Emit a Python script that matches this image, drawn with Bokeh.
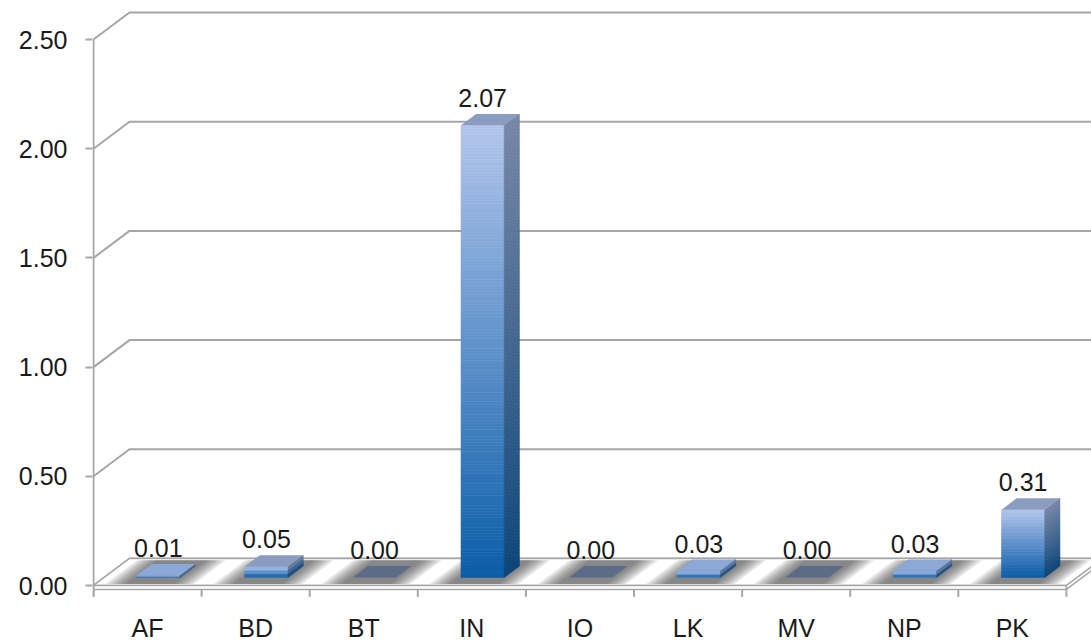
import numpy as np
from bokeh.plotting import figure
from bokeh.models import FixedTicker, NumeralTickFormatter, Range1d
from bokeh.embed import file_html
from bokeh.resources import INLINE
from bokeh.core.properties import value

# ---------------- data ----------------
categories = ["AF", "BD", "BT", "IN", "IO", "LK", "MV", "NP", "PK"]
values = [0.01, 0.05, 0.00, 2.07, 0.00, 0.03, 0.00, 0.03, 0.31]
y_ticks = [0.0, 0.5, 1.0, 1.5, 2.0, 2.5]

# ---------------- style / geometry ----------------
FONT = value("Liberation Sans")
FS = "25px"
TXT = "#1A1A1A"
GRID = "#A6A6A6"
DX, DY = 0.333, 0.1236        # depth vector of the 3D box (category units, data units)
F1, F2 = 0.30, 0.72           # bar front / back depth fractions
BW = 0.40                     # bar width (category units)
SLAB = 0.018                  # floor thickness
TICK = 0.034                  # category tick length below the floor
LABEL_Y = -0.1946             # category label anchor
N = len(categories)

def hex2rgb(h):
    h = h.lstrip("#")
    return np.array([int(h[i:i + 2], 16) for i in (0, 2, 4)], dtype=float)

def mix(c_top, c_bot, t):
    a, b = hex2rgb(c_top), hex2rgb(c_bot)
    c = b + (a - b) * t
    return "#%02x%02x%02x" % tuple(int(round(x)) for x in c)

FRONT_TOP, FRONT_BOT = "#B2C5EC", "#0A5DA8"
SIDE_TOP, SIDE_BOT = "#7686A6", "#0B4478"
TOP_FACE = "#8A9CC0"
ZERO_FACE = "#5B6B88"

p = figure(width=1091, height=644, output_backend="svg", toolbar_location=None,
           x_range=Range1d(-0.00925, 9.232), y_range=Range1d(-0.2701, 2.6786),
           min_border_left=92, min_border_right=0, min_border_top=0,
           min_border_bottom=0, title=None)
p.outline_line_color = None
p.xgrid.visible = False
p.ygrid.visible = False
p.xaxis.visible = False
p.background_fill_color = "white"
p.border_fill_color = "white"

# ---------------- walls / gridlines ----------------
far = 10.5
p.multi_line(xs=[[0, DX, far] for v in y_ticks],
             ys=[[v, v + DY, v + DY] for v in y_ticks],
             line_color=GRID, line_width=2)

# ---------------- floor ----------------
p.patch([0, N, N + DX, DX], [0, 0, DY, DY], fill_color="white",
        line_color=GRID, line_width=1.5)
p.patch([0, N, N, 0], [0, 0, -SLAB, -SLAB], fill_color="white",
        line_color=GRID, line_width=1.5)
p.patch([N, N + DX, N + DX, N], [0, DY, DY - SLAB, -SLAB], fill_color="white",
        line_color=GRID, line_width=1.5)

# floor shadows
sh_x, sh_y = [], []
for i in range(N):
    for k in range(1, 8):
        e = 0.03 * k
        l = i + 0.5 - BW / 2 - e
        r = i + 0.5 + BW / 2 + e
        fa, fb = 0.06, 0.94
        sh_x.append([l + fa * DX, r + fa * DX, r + fb * DX, l + fb * DX])
        sh_y.append([fa * DY, fa * DY, fb * DY, fb * DY])
p.patches(sh_x, sh_y, fill_color="#3A3A3A", fill_alpha=0.12, line_color=None)

# ---------------- bars ----------------
fq_l, fq_r, fq_b, fq_t, fq_c = [], [], [], [], []
sp_x, sp_y, sp_c = [], [], []
tp_x, tp_y, tp_c = [], [], []
for i, v in enumerate(values):
    xl = i + 0.5 - BW / 2 + F1 * DX
    xr = xl + BW
    y0 = F1 * DY
    ddx = (F2 - F1) * DX
    ddy = (F2 - F1) * DY
    if v > 0:
        n = max(2, int(v * 70))
        edges = np.linspace(0, v, n + 1)
        for j in range(n):
            t = (j + 0.5) / n
            fq_l.append(xl); fq_r.append(xr)
            fq_b.append(y0 + edges[j]); fq_t.append(y0 + edges[j + 1])
            fq_c.append(mix(FRONT_TOP, FRONT_BOT, t))
            sp_x.append([xr, xr + ddx, xr + ddx, xr])
            sp_y.append([y0 + edges[j], y0 + ddy + edges[j],
                         y0 + ddy + edges[j + 1], y0 + edges[j + 1]])
            sp_c.append(mix(SIDE_TOP, SIDE_BOT, t))
        tc = TOP_FACE if v >= 0.04 else "#8BA8D6"
    else:
        tc = ZERO_FACE
    tp_x.append([xl, xr, xr + ddx, xl + ddx])
    tp_y.append([y0 + v, y0 + v, y0 + ddy + v, y0 + ddy + v])
    tp_c.append(tc)

p.quad(left=fq_l, right=fq_r, bottom=fq_b, top=fq_t, fill_color=fq_c,
       line_color=fq_c, line_width=0.6)
p.patches(sp_x, sp_y, fill_color=sp_c, line_color=sp_c, line_width=0.6)
p.patches(tp_x, tp_y, fill_color=tp_c, line_color=None)

# value labels
p.text(x=[i + 0.5 + F1 * DX for i in range(N)],
       y=[v + F2 * DY for v in values],
       text=["%.2f" % v for v in values],
       text_font=FONT, text_font_size=FS, text_color=TXT,
       text_align="center", text_baseline="alphabetic", y_offset=-16)

# front y-axis line
p.segment(x0=[0], y0=[-SLAB - TICK], x1=[0], y1=[y_ticks[-1]], line_color=GRID, line_width=2)

# category ticks and labels (drawn below the floor)
p.segment(x0=list(range(N + 1)), y0=[-SLAB] * (N + 1),
          x1=list(range(N + 1)), y1=[-SLAB - TICK] * (N + 1),
          line_color=GRID, line_width=2)
p.text(x=[i + 0.5 for i in range(N)], y=[LABEL_Y] * N, text=categories,
       text_font=FONT, text_font_size=FS, text_color=TXT,
       text_align="center", text_baseline="alphabetic")

# ---------------- y axis ----------------
ya = p.yaxis[0]
ya.ticker = FixedTicker(ticks=y_ticks)
ya.formatter = NumeralTickFormatter(format="0.00")
ya.axis_line_color = None
ya.major_tick_line_color = GRID
ya.major_tick_line_width = 2
ya.major_tick_out = 7
ya.major_tick_in = 0
ya.minor_tick_line_color = None
ya.major_label_text_font = "Liberation Sans"
ya.major_label_text_font_size = FS
ya.major_label_text_color = TXT
ya.major_label_standoff = 18

open("out.html", "w").write(file_html(p, INLINE))
